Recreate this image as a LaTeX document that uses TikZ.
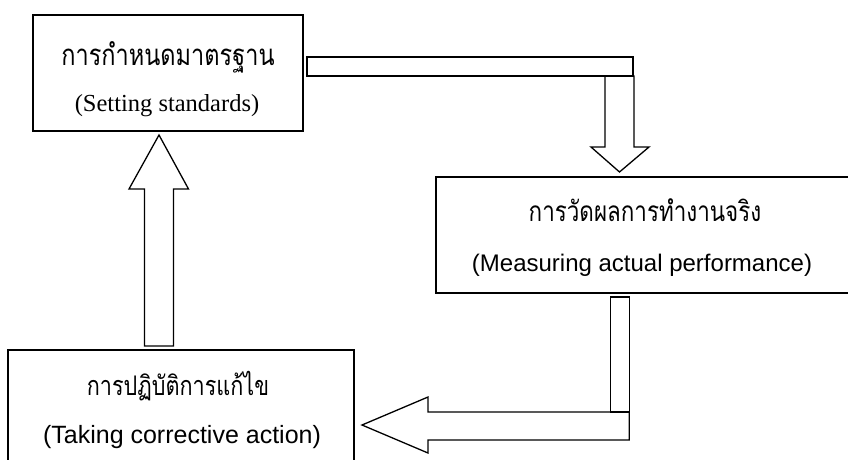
\documentclass[tikz,border=0pt]{standalone}
\usepackage{fontspec}
\setmainfont{Liberation Serif}
\newfontfamily\thaifont[Script=Thai, FakeStretch=0.8]{Loma}
\newfontfamily\arialfont{Liberation Sans}

\tikzset{
  box/.style={draw, line width=1.6pt, inner sep=0pt},
  blockarrow/.style={draw, line width=1.3pt, line join=miter},
  thlabel/.style={anchor=base, inner sep=0pt, font=\thaifont\fontsize{28}{32}\selectfont},
  enserif/.style={anchor=base, inner sep=0pt, font=\rmfamily\fontsize{24.5}{28}\selectfont},
  ensans/.style={anchor=base, inner sep=0pt, font=\arialfont\fontsize{24}{28}\selectfont}
}

\begin{document}
\begin{tikzpicture}[x=1pt, y=-1pt]
  \def\shaft{14.5};
  \def\head{29.5};
  \useasboundingbox (0,0) rectangle (848,459);

  %boxes
  \node[box, minimum width=270pt, minimum height=116pt] (set) at (168,73) {};
  \node[box, minimum width=413pt, minimum height=116pt] (meas) at (642.5,235) {};
  \node[box, minimum width=346pt, minimum height=116pt] (act) at (181,408) {};

  \node[thlabel, font=\thaifont\fontsize{29.4}{32}\selectfont] (setth) at (168,65) {การกำหนดมาตรฐาน};
  \node[enserif] (seten) at (167,111) {(Setting standards)};
  \node[thlabel] (measth) at (645,221) {การวัดผลการทำงานจริง};
  \node[ensans] (measen) at (642,271) {(Measuring actual performance)};
  \node[thlabel, font=\thaifont\fontsize{27}{32}\selectfont] (actth) at (178,395) {การปฏิบัติการแก้ไข};
  \node[ensans, font=\arialfont\fontsize{25}{28}\selectfont] (acten) at (182,443) {(Taking corrective action)};

  %set to meas
  \coordinate (downtip) at (619.5,172);
  \draw[blockarrow] (307,57) rectangle (633,76);
  \draw[blockarrow] (downtip)
  --++(-\head+1,-25)--++(\head-\shaft-1,0)
  --++(0,-71)--++(2*\shaft,0)
  --++(0,71)--++(\head-\shaft,0)
  --cycle;

  %meas to act
  \coordinate (lefttip) at (362,425);
  \draw[blockarrow] (610.7,297) rectangle (629.3,412);
  \draw[blockarrow] (lefttip)
  --++(66,-28)--++(0,15)
  --++(201.3,0)--++(0,28)
  --++(-201.3,0)--++(0,13)
  --cycle;

  %act to set
  \coordinate (uptip) at (159,135);
  \draw[blockarrow] (uptip)
  --++(-\head-0.5,54)--++(\head-\shaft+0.5,0)
  --++(0,157)--++(2*\shaft,0)
  --++(0,-157)--++(\head-\shaft,0)
  --cycle;
\end{tikzpicture}
\end{document}
